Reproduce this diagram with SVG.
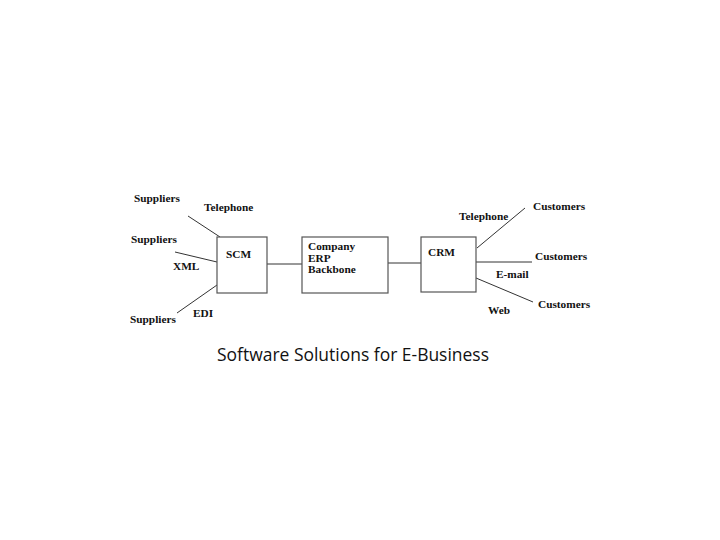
<svg xmlns="http://www.w3.org/2000/svg" width="720" height="540" viewBox="0 0 720 540">
<style>
.box{fill:#fff;stroke:#555;stroke-width:1.2}
.ln{stroke:#333;stroke-width:1;fill:none}
.lb{font-family:"Liberation Serif",serif;font-weight:bold;font-size:11.3px;fill:#111}
.cap{font-family:"Open Sans","Noto Sans",sans-serif;font-size:17.5px;fill:#111}
</style>
<rect width="720" height="540" fill="#fff"/>
<g id="connectors">
<line class="ln" x1="267" y1="264" x2="302" y2="264"/>
<line class="ln" x1="388" y1="263" x2="421" y2="263"/>
<line class="ln" x1="188" y1="216" x2="220" y2="237"/>
<line class="ln" x1="175" y1="252" x2="217" y2="262"/>
<line class="ln" x1="177" y1="313" x2="217" y2="285"/>
<line class="ln" x1="477" y1="248" x2="525" y2="208"/>
<line class="ln" x1="476" y1="262" x2="532" y2="262"/>
<line class="ln" x1="476" y1="278" x2="533" y2="302"/>
</g>
<g id="scm">
<rect class="box" x="217" y="237" width="50" height="56"/>
<text class="lb" x="226" y="258">SCM</text>
</g>
<g id="erp">
<rect class="box" x="302" y="237" width="86" height="56"/>
<text class="lb" x="308" y="250">Company</text>
<text class="lb" x="308" y="262">ERP</text>
<text class="lb" x="308" y="273">Backbone</text>
</g>
<g id="crm">
<rect class="box" x="421" y="237" width="55" height="55"/>
<text class="lb" x="428" y="256">CRM</text>
</g>
<g id="labels">
<text class="lb" x="134" y="202">Suppliers</text>
<text class="lb" x="204" y="211">Telephone</text>
<text class="lb" x="131" y="243">Suppliers</text>
<text class="lb" x="173" y="270">XML</text>
<text class="lb" x="130" y="323">Suppliers</text>
<text class="lb" x="193" y="317">EDI</text>
<text class="lb" x="459" y="220">Telephone</text>
<text class="lb" x="533" y="210">Customers</text>
<text class="lb" x="535" y="260">Customers</text>
<text class="lb" x="496" y="278">E-mail</text>
<text class="lb" x="538" y="308">Customers</text>
<text class="lb" x="488" y="314">Web</text>
</g>
<text class="cap" x="217" y="361" textLength="272" lengthAdjust="spacingAndGlyphs">Software Solutions for E-Business</text>
</svg>
